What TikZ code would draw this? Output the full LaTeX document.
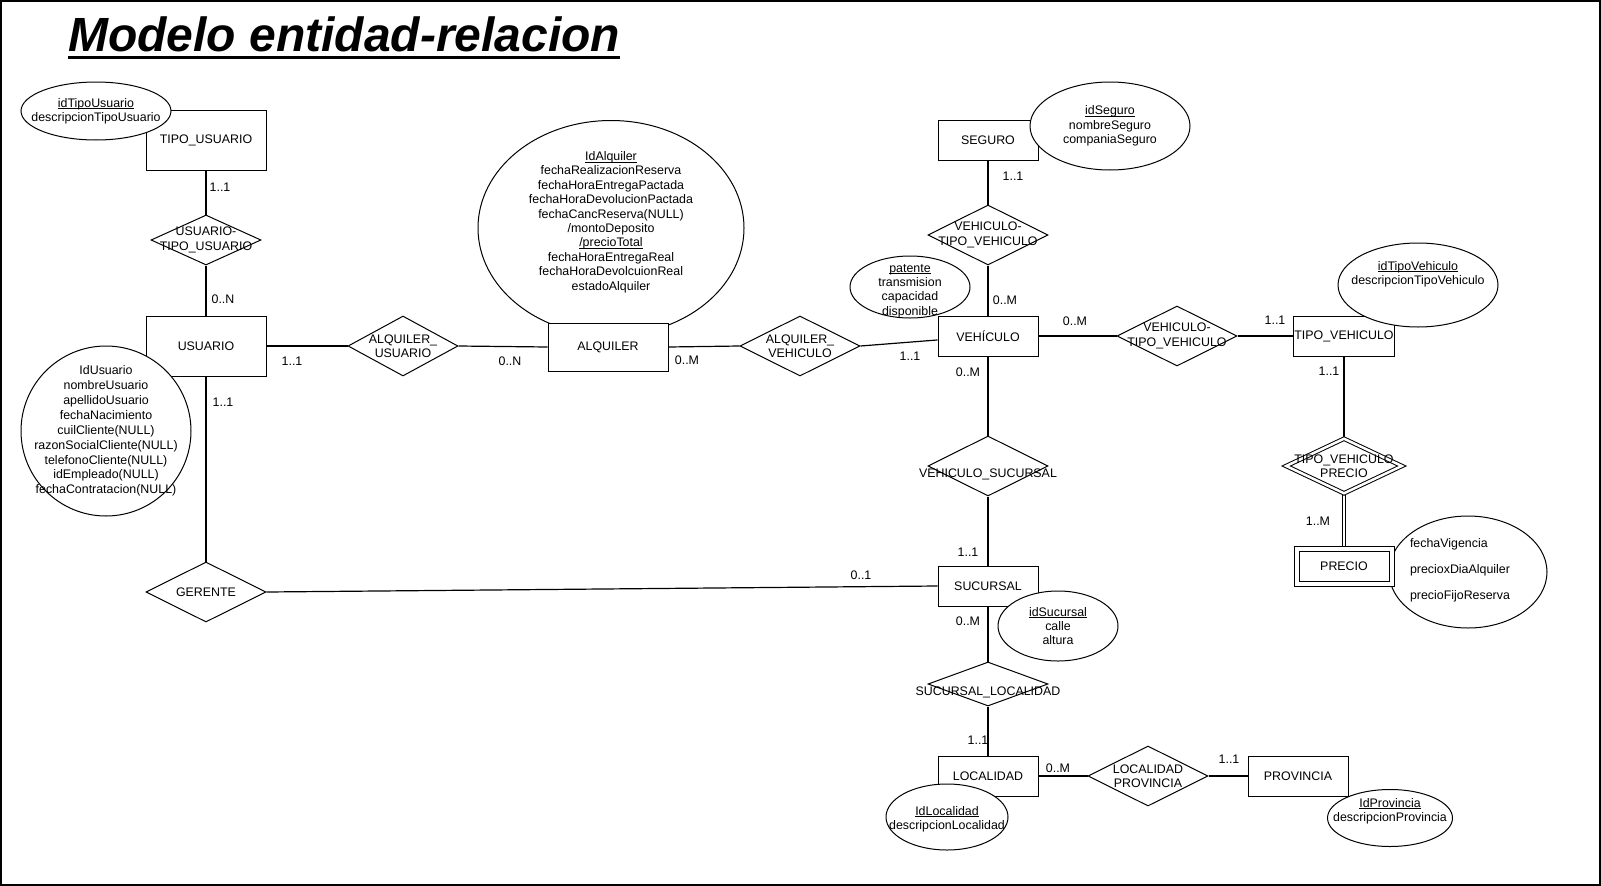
\documentclass[tikz,border=0pt]{standalone}
\usepackage{fontspec}
\setmainfont{Liberation Sans}
\usetikzlibrary{shapes.geometric, positioning, backgrounds}

\newcommand{\clave}[1]{\underline{\smash{#1}}\vphantom{#1}}

\begin{document}
\begin{tikzpicture}[
    x=1pt, y=-1pt,
    font=\fontsize{12.4}{14.4}\selectfont,
    entidad/.style={draw, fill=white, line width=1pt, minimum width=100pt,
                    minimum height=40pt, inner sep=1pt},
    relacion/.style={diamond, draw, fill=white, line width=1pt,
                     minimum width=120pt, minimum height=60pt, inner sep=0pt},
    atributo/.style={ellipse, draw, fill=white, line width=1pt, inner sep=0pt},
    txt/.style={align=center, inner sep=0pt},
    card/.style={inner sep=0pt},
    link/.style={line width=1.2pt},
]

\useasboundingbox (0,0) rectangle (1601,886);
\draw[line width=2pt] (1,1) rectangle (1600,885);

% --- title ---
\node[anchor=base west, inner sep=0pt,
      font=\fontsize{48}{56}\selectfont\bfseries\itshape] (titulo) at (68,51)
      {Modelo entidad-relacion};
\draw[line width=3pt] ([yshift=-6pt]titulo.base west) -- ([yshift=-6pt]titulo.base east);

% --- entities ---
\node[entidad, minimum width=120pt, minimum height=60pt] (tusr) at (206,140) {TIPO\_USUARIO};
\node[entidad, minimum width=120pt, minimum height=60pt] (usr) at (206,346) {USUARIO};
\node[entidad] (seg)  at (988,140)  {SEGURO};
\node[entidad] (veh)  at (988,336)  {VEHÍCULO};
\node[entidad] (tveh) at (1344,336) {TIPO\_VEHICULO};
\node[entidad] (suc)  at (988,586)  {SUCURSAL};
\node[entidad] (loc)  at (988,776)  {LOCALIDAD};
\node[entidad] (prov) at (1298,776) {PROVINCIA};

% --- attributes ---
\node[atributo, minimum width=150pt, minimum height=58pt,
      label={[txt, name=tusrattr-t]center:{\clave{idTipoUsuario}\\descripcionTipoUsuario}}]
      (tusrattr) at (96,111) {};
\node[atributo, minimum width=170pt, minimum height=170pt,
      label={[txt, name=usrattr-t, font=\fontsize{12.4}{14.9}\selectfont]center:{IdUsuario\\nombreUsuario\\apellidoUsuario\\fechaNacimiento\\cuilCliente(NULL)\\razonSocialCliente(NULL)\\telefonoCliente(NULL)\\idEmpleado(NULL)\\fechaContratacion(NULL)}}]
      (usrattr) at (106,431) {};
\node[atributo, minimum width=266pt, minimum height=215pt,
      label={[txt, name=alqattr-t, yshift=6pt]center:{\clave{IdAlquiler}\\fechaRealizacionReserva\\fechaHoraEntregaPactada\\fechaHoraDevolucionPactada\\fechaCancReserva(NULL)\\/montoDeposito\\\clave{/precioTotal}\\fechaHoraEntregaReal\\fechaHoraDevolcuionReal\\estadoAlquiler}}]
      (alqattr) at (611,228) {};
\node[entidad, minimum width=120pt, minimum height=48pt] (alq) at (608,347) {ALQUILER};
\node[atributo, minimum width=160pt, minimum height=88pt,
      label={[txt, name=segattr-t]center:{\clave{idSeguro}\\nombreSeguro\\companiaSeguro}}]
      (segattr) at (1110,126) {};
\node[atributo, minimum width=120pt, minimum height=62pt,
      label={[txt, name=vehattr-t, yshift=-4pt]center:{\clave{patente}\\transmision\\capacidad\\disponible}}]
      (vehattr) at (910,287) {};
\node[atributo, minimum width=160pt, minimum height=84pt,
      label={[txt, name=tvehattr-t, yshift=11pt]center:{\clave{idTipoVehiculo}\\descripcionTipoVehiculo}}]
      (tvehattr) at (1418,285) {};
\node[atributo, minimum width=158pt, minimum height=112pt,
      label={[inner sep=0pt, align=left, name=preattr-t, xshift=-8pt, yshift=2pt]center:{fechaVigencia\\[11.6pt]precioxDiaAlquiler\\[11.6pt]precioFijoReserva}}]
      (preattr) at (1468,572) {};
\node[entidad, double, double distance=4pt, minimum width=95pt, minimum height=35pt]
      (precio) at (1344,566) {PRECIO};
\node[atributo, minimum width=120pt, minimum height=70pt,
      label={[txt, name=sucattr-t]center:{\clave{idSucursal}\\calle\\altura}}]
      (sucattr) at (1058,626) {};
\node[atributo, minimum width=122pt, minimum height=66pt,
      label={[txt, name=locattr-t, yshift=-2pt]center:{\clave{IdLocalidad}\\descripcionLocalidad}}]
      (locattr) at (947,817) {};
\node[atributo, minimum width=125pt, minimum height=57pt,
      label={[txt, name=provattr-t, yshift=7pt]center:{\clave{IdProvincia}\\descripcionProvincia}}]
      (provattr) at (1390,818) {};

% --- relationships ---
\node[relacion, minimum width=110pt, minimum height=50pt,
      label={[txt, name=usrtusr-t]center:{USUARIO-\\TIPO\_USUARIO}}] (usrtusr) at (206,240) {};
\node[relacion, minimum width=110pt,
      label={[txt, name=alqusr-t]center:{ALQUILER\_\\USUARIO}}] (alqusr) at (403,346) {};
\node[relacion,
      label={[txt, name=alqveh-t]center:{ALQUILER\_\\VEHICULO}}] (alqveh) at (800,346) {};
\node[relacion,
      label={[txt, name=vehseg-t]center:{VEHICULO-\\TIPO\_VEHICULO}}] (vehseg) at (988,235) {};
\node[relacion,
      label={[txt, name=vehtveh-t]center:{VEHICULO-\\TIPO\_VEHICULO}}] (vehtveh) at (1177,336) {};
\node[relacion, double, double distance=2.5pt, minimum width=116pt, minimum height=55pt,
      label={[txt, name=tvehprecio-t]center:{TIPO\_VEHICULO\\PRECIO}}] (tvehprecio) at (1344,466) {};
\node[relacion,
      label={[txt, name=vehsuc-t, yshift=-8pt]center:{VEHICULO\_SUCURSAL}}] (vehsuc) at (988,466) {};
\node[relacion,
      label={[txt, name=gerente-t]center:{GERENTE}}] (gerente) at (206,592) {};
\node[relacion, minimum height=44pt,
      label={[txt, name=sucloc-t, yshift=-8pt]center:{SUCURSAL\_LOCALIDAD}}] (sucloc) at (988,684) {};
\node[relacion,
      label={[txt, name=locprov-t]center:{LOCALIDAD\\PROVINCIA}}] (locprov) at (1148,776) {};

% --- cardinalities ---
\node[card] (c-tusr)    at (220,187)  {1..1};
\node[card] (c-usr1)    at (223,299)  {0..N};
\node[card] (c-usr2)    at (292,361)  {1..1};
\node[card] (c-usr3)    at (223,402)  {1..1};
\node[card] (c-alq1)    at (510,361)  {0..N};
\node[card] (c-alq2)    at (687,360)  {0..M};
\node[card] (c-veh1)    at (910,356)  {1..1};
\node[card] (c-seg)     at (1013,176) {1..1};
\node[card] (c-veh2)    at (1005,300) {0..M};
\node[card] (c-veh3)    at (1075,321) {0..M};
\node[card] (c-veh4)    at (968,372)  {0..M};
\node[card] (c-tveh1)   at (1275,320) {1..1};
\node[card] (c-tveh2)   at (1329,371) {1..1};
\node[card] (c-precio)  at (1318,521) {1..M};
\node[card] (c-suc1)    at (968,552)  {1..1};
\node[card] (c-suc2)    at (861,575)  {0..1};
\node[card] (c-suc3)    at (968,621)  {0..M};
\node[card] (c-loc1)    at (978,740)  {1..1};
\node[card] (c-loc2)    at (1058,768) {0..M};
\node[card] (c-prov)    at (1229,759) {1..1};

% --- connectors ---
\begin{scope}[on background layer]
    \draw[link] (tusr.south) -- (usrtusr.north);
    \draw[link] (usrtusr.south) -- (usr.north);
    \draw[link] (usr.east) -- (alqusr.west);
    \draw[link] (alqusr.east) -- (alq.west);
    \draw[link] (alq.east) -- (alqveh.west);
    \draw[link] (alqveh.east) -- (veh);
    \draw[link] (seg.south) -- (vehseg.north);
    \draw[link] (vehseg.south) -- (veh.north);
    \draw[link] (veh.east) -- (vehtveh.west);
    \draw[link] (vehtveh.east) -- (tveh.west);
    \draw[link] (tveh.south) -- (tvehprecio.north);
    \draw[link, double, double distance=2pt] (tvehprecio.south) -- (precio.north);
    \draw[link] (veh.south) -- (vehsuc.north);
    \draw[link] (vehsuc.south) -- (suc.north);
    \draw[link] (usr.south) -- (gerente.north);
    \draw[link] (gerente.east) -- (suc.west);
    \draw[link] (suc.south) -- (sucloc.north);
    \draw[link] (sucloc.south) -- (loc.north);
    \draw[link] (loc.east) -- (locprov.west);
    \draw[link] (locprov.east) -- (prov.west);
\end{scope}

\end{tikzpicture}
\end{document}
